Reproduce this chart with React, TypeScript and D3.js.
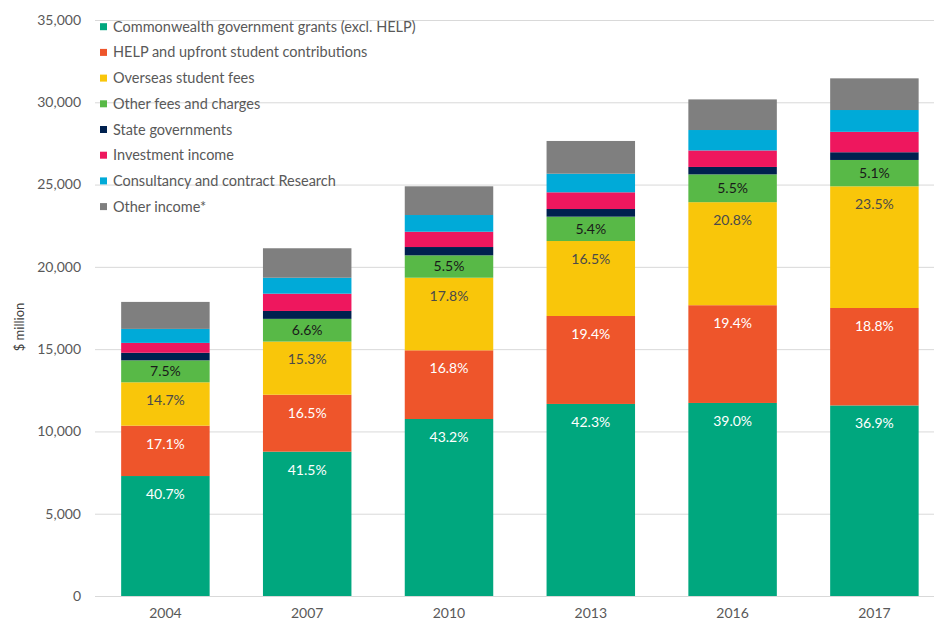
import React from "react";
import * as d3 from "d3";

const years = ["2004", "2007", "2010", "2013", "2016", "2017"];
const seriesNames = [
  "Commonwealth government grants (excl. HELP)",
  "HELP and upfront student contributions",
  "Overseas student fees",
  "Other fees and charges",
  "State governments",
  "Investment income",
  "Consultancy and contract Research",
  "Other income*",
];
const colors = ["#00A77E", "#EE552B", "#F9C60A", "#58B947", "#00214F", "#EE175E", "#00AAD8", "#7F7F7F"];

const commonwealth = [7290, 8770, 10755, 11670, 11730, 11580];
const help = [3060, 3460, 4175, 5345, 5940, 5920];
const overseas = [2635, 3230, 4410, 4555, 6260, 7395];
const otherFees = [1335, 1380, 1360, 1480, 1690, 1600];
const stateGov = [460, 480, 505, 465, 450, 470];
const investment = [600, 1050, 930, 1015, 1005, 1240];
const consultancy = [850, 970, 1015, 1130, 1240, 1325];
const otherIncome = [1640, 1790, 1745, 1990, 1860, 1925];

const pctCommonwealth = ["40.7%", "41.5%", "43.2%", "42.3%", "39.0%", "36.9%"];
const pctHelp = ["17.1%", "16.5%", "16.8%", "19.4%", "19.4%", "18.8%"];
const pctOverseas = ["14.7%", "15.3%", "17.8%", "16.5%", "20.8%", "23.5%"];
const pctOtherFees = ["7.5%", "6.6%", "5.5%", "5.4%", "5.5%", "5.1%"];

const yTicks = [0, 5000, 10000, 15000, 20000, 25000, 30000, 35000];

const allSeries = [commonwealth, help, overseas, otherFees, stateGov, investment, consultancy, otherIncome];
const labelSets = [pctCommonwealth, pctHelp, pctOverseas, pctOtherFees];
const labelColors = ["#FFFFFF", "#FFFFFF", "#4A4A4A", "#1A1A1A"];

const FONT = "Lato, 'Open Sans', sans-serif";

export default function App() {
  const W = 934;
  const H = 620;
  const x = d3.scaleBand<string>().domain(years).range([94.5, 945.3]).paddingInner(0.376).paddingOuter(0.188);
  const y = d3.scaleLinear().domain([0, 35000]).range([596, 20]);

  const rows = years.map((yr, i) => {
    const obj: any = { year: yr };
    seriesNames.forEach((s, k) => (obj[s] = allSeries[k][i]));
    return obj;
  });
  const stacked = d3.stack<any>().keys(seriesNames)(rows);
  const fmt = d3.format(",");

  return (
    <div style={{ position: "absolute", left: 0, top: 0 }}>
      <svg width={W} height={H} style={{ display: "block", fontFamily: FONT }}>
        <rect x={0} y={0} width={W} height={H} fill="#fff" />
        {yTicks.map((t) => (
          <g key={t}>
            <line x1={95} x2={W} y1={y(t) + 0.5} y2={y(t) + 0.5} stroke="#D9D9D9" strokeWidth={1} />
            <text x={81} y={y(t)} dy="0.35em" textAnchor="end" fontSize={14} fill="#595959">
              {fmt(t)}
            </text>
          </g>
        ))}
        <text
          transform={`translate(19,327) rotate(-90)`}
          textAnchor="middle"
          dy="0.35em"
          fontSize={13}
          fill="#404040"
        >
          $ million
        </text>
        {stacked.map((layer, k) => (
          <g key={k}>
            {layer.map((d, i) => (
              <rect
                key={i}
                x={x(years[i])}
                y={y(d[1])}
                width={x.bandwidth()}
                height={y(d[0]) - y(d[1])}
                fill={colors[k]}
              />
            ))}
          </g>
        ))}
        {stacked.slice(0, 4).map((layer, k) => (
          <g key={"l" + k}>
            {layer.map((d, i) => {
              const top = y(d[1]);
              const bot = y(d[0]);
              const cy = Math.min(top + 18, (top + bot) / 2);
              return (
                <text
                  key={i}
                  x={(x(years[i]) as number) + x.bandwidth() / 2}
                  y={cy}
                  dy="0.35em"
                  textAnchor="middle"
                  fontSize={14}
                  fill={labelColors[k]}
                >
                  {labelSets[k][i]}
                </text>
              );
            })}
          </g>
        ))}
        {years.map((yr) => (
          <text
            key={yr}
            x={(x(yr) as number) + x.bandwidth() / 2}
            y={618}
            textAnchor="middle"
            fontSize={14}
            fill="#595959"
          >
            {yr}
          </text>
        ))}
        {seriesNames.map((s, k) => {
          const cy = 26.7 + k * 25.7;
          return (
            <g key={"lg" + k}>
              <rect x={100} y={cy - 3.5} width={7} height={7} fill={colors[k]} />
              <text x={113} y={cy} dy="0.35em" fontSize={14.5} fill="#595959">
                {s}
              </text>
            </g>
          );
        })}
      </svg>
    </div>
  );
}
